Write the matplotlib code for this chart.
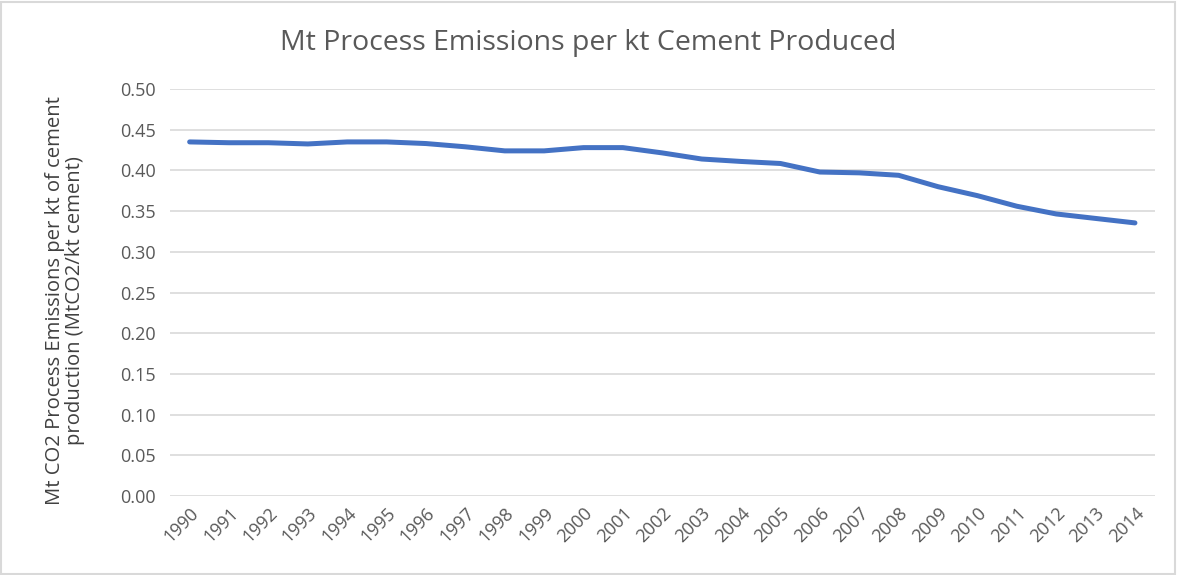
import matplotlib.pyplot as plt
from matplotlib.patches import Rectangle

years = [str(y) for y in range(1990, 2015)]
intensity = [0.435, 0.434, 0.434, 0.4325, 0.435, 0.435, 0.433, 0.429, 0.424, 0.424,
             0.428, 0.428, 0.4215, 0.414, 0.411, 0.4085, 0.398, 0.397, 0.394, 0.380,
             0.369, 0.356, 0.3465, 0.341, 0.3355]
yticks = [0.00, 0.05, 0.10, 0.15, 0.20, 0.25, 0.30, 0.35, 0.40, 0.45, 0.50]

plt.rcParams['font.family'] = ['Open Sans', 'DejaVu Sans']
grey = '#595959'

fig = plt.figure(figsize=(11.77, 5.75), dpi=100)
ax = fig.add_axes([0.1444, 0.1374, 0.8366, 0.7078])

x = list(range(len(years)))
ax.plot(x, intensity, color='#4472C4', lw=3.6, solid_capstyle='round', zorder=3)

ax.set_xlim(-0.5, len(years) - 0.5)
ax.set_ylim(0, 0.5)
ax.set_yticks(yticks)
ax.set_yticklabels(['%.2f' % v for v in yticks])
ax.set_xticks(x)
ax.set_xticklabels(years, rotation=45, ha='right', rotation_mode='anchor')
ax.tick_params(axis='both', length=0, colors=grey, labelsize=13)
ax.tick_params(axis='y', pad=10)
ax.tick_params(axis='x', pad=6)
ax.grid(axis='y', color='#d9d9d9', lw=1.2)
ax.set_axisbelow(True)
for s in ax.spines.values():
    s.set_visible(False)

ax.set_ylabel('Mt CO2 Process Emissions per kt of cement\nproduction (MtCO2/kt cement)',
              fontsize=14.6, color='#404040', linespacing=1.0)
ax.yaxis.set_label_coords(-0.086, 0.48)
fig.text(0.5, 0.925, 'Mt Process Emissions per kt Cement Produced',
         ha='center', va='center', fontsize=20.5, color='#595959')

fig.patches.append(Rectangle((0.001, 0.002), 0.997, 0.995, transform=fig.transFigure,
                             fill=False, edgecolor='#d9d9d9', lw=1.5))

fig.savefig('out.png', dpi=100)
